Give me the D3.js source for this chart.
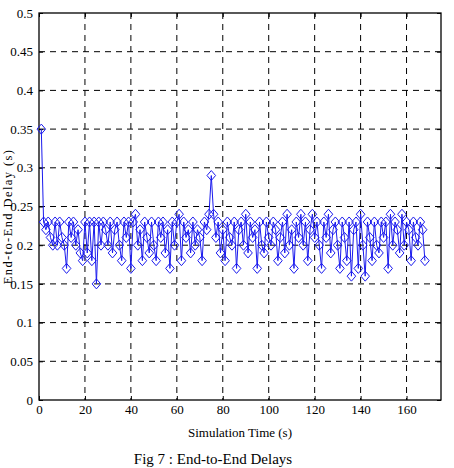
<!DOCTYPE html>
<html>
<head>
<meta charset="utf-8">
<script src="https://cdn.jsdelivr.net/npm/d3@7"></script>
<style>
  body { margin: 0; background: #fff; }
  svg text { font-family: "Liberation Serif", "DejaVu Serif", serif !important; fill: #000; }
</style>
</head>
<body>
<svg id="delay-chart"></svg>
<script>
// end-to-end delay (s) per simulation second
const delays = [
    0.35, 0.23, 0.22, 0.23, 0.21, 0.20, 0.23, 0.20, 0.23, 0.21,
    0.20, 0.17, 0.23, 0.21, 0.23, 0.20, 0.22, 0.19, 0.18, 0.23,
    0.19, 0.23, 0.18, 0.23, 0.15, 0.23, 0.20, 0.23, 0.22, 0.20,
    0.23, 0.19, 0.22, 0.23, 0.20, 0.18, 0.23, 0.21, 0.23, 0.17,
    0.23, 0.24, 0.20, 0.22, 0.18, 0.23, 0.21, 0.19, 0.23, 0.20,
    0.18, 0.23, 0.21, 0.23, 0.19, 0.22, 0.17, 0.23, 0.20, 0.23,
    0.24, 0.18, 0.23, 0.21, 0.22, 0.19, 0.23, 0.20, 0.22, 0.21,
    0.18, 0.23, 0.22, 0.24, 0.29, 0.24, 0.21, 0.23, 0.19, 0.22,
    0.18, 0.23, 0.21, 0.20, 0.23, 0.17, 0.22, 0.23, 0.20, 0.24,
    0.19, 0.23, 0.21, 0.22, 0.17, 0.23, 0.20, 0.19, 0.23, 0.21,
    0.20, 0.23, 0.22, 0.18, 0.21, 0.23, 0.19, 0.24, 0.20, 0.22,
    0.17, 0.23, 0.21, 0.24, 0.20, 0.23, 0.18, 0.22, 0.24, 0.21,
    0.23, 0.20, 0.17, 0.23, 0.21, 0.24, 0.19, 0.22, 0.23, 0.20,
    0.17, 0.23, 0.21, 0.18, 0.23, 0.16, 0.22, 0.23, 0.17, 0.24,
    0.20, 0.16, 0.23, 0.21, 0.18, 0.23, 0.20, 0.19, 0.23, 0.21,
    0.23, 0.17, 0.24, 0.20, 0.23, 0.22, 0.19, 0.24, 0.20, 0.23,
    0.22, 0.18, 0.23, 0.21, 0.20, 0.23, 0.22, 0.18
];
const times = delays.map((d, i) => i + 1);

const xTicks = [0, 20, 40, 60, 80, 100, 120, 140, 160];
const yTicks = [0, 0.05, 0.1, 0.15, 0.2, 0.25, 0.3, 0.35, 0.4, 0.45, 0.5];

const xLabel = "Simulation Time (s)";
const yLabel = "End-to-End Delay (s)";
const caption = "Fig 7 :  End-to-End Delays";

const width = 454, height = 468;
const margin = { top: 13, right: 13, bottom: 68, left: 39 };
const plotW = width - margin.left - margin.right;
const plotH = height - margin.top - margin.bottom;
const serif = "'Liberation Serif', 'DejaVu Serif', serif";

const svg = d3.select("#delay-chart")
    .attr("width", width)
    .attr("height", height);

const plot = svg.append("g")
    .attr("transform", `translate(${margin.left},${margin.top})`);

const x = d3.scaleLinear().domain([0, 175]).range([0, plotW]);
const y = d3.scaleLinear().domain([0, 0.5]).range([plotH, 0]);

// dashed grid
plot.append("g")
    .selectAll("line")
    .data(xTicks.filter(t => t > 0))
    .join("line")
        .attr("x1", d => x(d)).attr("x2", d => x(d))
        .attr("y1", 0).attr("y2", plotH)
        .attr("stroke", "#000")
        .attr("stroke-dasharray", "6,5");
plot.append("g")
    .selectAll("line")
    .data(yTicks.filter(t => t > 0 && t < 0.5))
    .join("line")
        .attr("x1", 0).attr("x2", plotW)
        .attr("y1", d => y(d)).attr("y2", d => y(d))
        .attr("stroke", "#000")
        .attr("stroke-dasharray", "6,5");

// axes with inward ticks, matlab style
const fmt = d => d === 0 ? "0" : String(+d.toFixed(2));
plot.append("g")
    .attr("transform", `translate(0,${plotH})`)
    .call(d3.axisBottom(x).tickValues(xTicks).tickSize(-4).tickPadding(5).tickFormat(fmt))
    .attr("font-family", serif)
    .call(g => g.select(".domain").remove())
    .call(g => g.selectAll("text").attr("font-size", 13));
plot.append("g")
    .call(d3.axisLeft(y).tickValues(yTicks).tickSize(-4).tickPadding(6).tickFormat(fmt))
    .attr("font-family", serif)
    .call(g => g.select(".domain").remove())
    .call(g => g.selectAll("text").attr("font-size", 13));
plot.append("g")
    .call(d3.axisTop(x).tickValues(xTicks).tickSize(-4).tickFormat(""))
    .call(g => g.select(".domain").remove());
plot.append("g")
    .attr("transform", `translate(${plotW},0)`)
    .call(d3.axisRight(y).tickValues(yTicks).tickSize(-4).tickFormat(""))
    .call(g => g.select(".domain").remove());

plot.append("rect")
    .attr("width", plotW).attr("height", plotH)
    .attr("fill", "none").attr("stroke", "#000").attr("stroke-width", 1.3);

// series
const data = times.map((t, i) => ({ t: t, v: delays[i] }));
const line = d3.line().x(d => x(d.t)).y(d => y(d.v));
const blue = "#1a1aee";

plot.append("path")
    .datum(data)
    .attr("d", line)
    .attr("fill", "none")
    .attr("stroke", blue)
    .attr("stroke-width", 1);

plot.append("g")
    .selectAll("path")
    .data(data)
    .join("path")
        .attr("transform", d => `translate(${x(d.t)},${y(d.v)})`)
        .attr("d", "M0,-5L4.3,0L0,5L-4.3,0Z")
        .attr("fill", "none")
        .attr("stroke", blue)
        .attr("stroke-width", 1);

// labels
svg.append("text")
    .attr("x", margin.left + plotW / 2)
    .attr("y", 437)
    .attr("font-family", serif)
    .attr("font-size", 13)
    .attr("text-anchor", "middle")
    .text(xLabel);

svg.append("text")
    .attr("transform", `translate(12,${margin.top + plotH / 2 + 10}) rotate(-90)`)
    .attr("font-family", serif)
    .attr("font-size", 12.5)
    .attr("letter-spacing", 1.4)
    .attr("text-anchor", "middle")
    .text(yLabel);

svg.append("text")
    .attr("x", 213)
    .attr("y", 464)
    .attr("font-family", serif)
    .attr("font-size", 15)
    .attr("text-anchor", "middle")
    .text(caption);
</script>
</body>
</html>
